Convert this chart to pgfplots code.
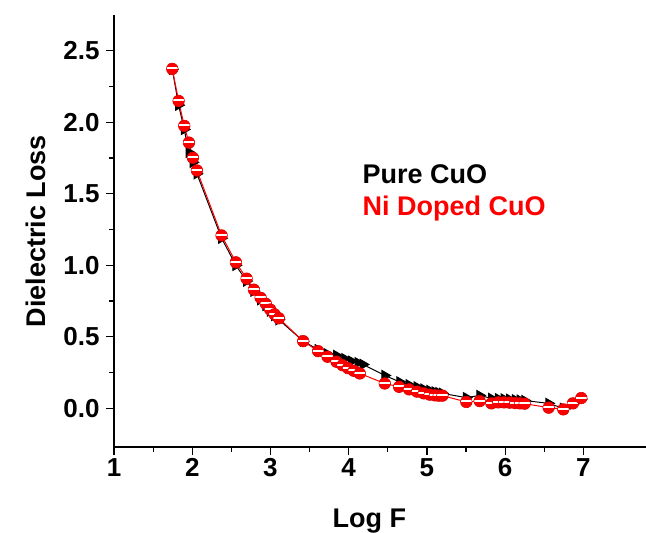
\documentclass[border=0pt]{standalone}
\usepackage{pgfplots}
\pgfplotsset{compat=1.18}
\usepackage{fontspec}
\setmainfont{Liberation Sans}

% red ball with a white highlight band
\pgfdeclareplotmark{ball}{%
  \pgfpathcircle{\pgfpointorigin}{\pgfplotmarksize}%
  \pgfsetfillcolor{red}\pgfusepath{fill}%
  \begin{pgfscope}%
    \pgfpathcircle{\pgfpointorigin}{\pgfplotmarksize}\pgfusepath{clip}%
    \pgfpathrectangle{\pgfpoint{-\pgfplotmarksize}{-0.08\pgfplotmarksize}}{\pgfpoint{2\pgfplotmarksize}{0.34\pgfplotmarksize}}%
    \pgfsetfillcolor{white}\pgfusepath{fill}%
  \end{pgfscope}%
  \pgfsetlinewidth{0.6pt}%
  \pgfpathcircle{\pgfpointorigin}{\pgfplotmarksize}%
  \pgfsetstrokecolor{red!85!black}\pgfusepath{stroke}%
}

\begin{document}
\begin{tikzpicture}
\begin{axis}[
    scale only axis,
    width=532pt, height=432pt,
    xmin=1, xmax=7.8,
    ymin=-0.27, ymax=2.75,
    axis lines*=left,
    axis line style={line width=1.2pt},
    tick align=outside,
    major tick length=8pt,
    minor tick length=4.5pt,
    every tick/.style={line width=1.2pt, black},
    xtick={1,2,...,7},
    ytick={0,0.5,...,2.5},
    minor x tick num=1,
    minor y tick num=1,
    /pgf/number format/assume math mode=true,
    yticklabel style={/pgf/number format/fixed, /pgf/number format/fixed zerofill,
        /pgf/number format/precision=1, xshift=-3pt},
    tick label style={font=\fontsize{26}{30}\selectfont\bfseries},
    label style={font=\fontsize{27}{31}\selectfont\bfseries},
    xlabel={Log F},
    ylabel={Dielectric Loss},
    xlabel style={at={(rel axis cs:0.48,0)}, anchor=base, yshift=-80pt},
    ylabel style={at={(rel axis cs:0,0.5)}, anchor=center, yshift=78pt},
    clip=false,
]
% Pure CuO
\addplot[black, line width=1pt, mark=triangle*, mark size=5.8pt,
    mark options={rotate=-90, fill=black, solid}] coordinates {
    (1.745,2.37) (1.826,2.12) (1.898,1.95) (1.958,1.79) (2.009,1.72) (2.060,1.64)
    (2.375,1.19) (2.558,1.00) (2.695,0.89) (2.788,0.82) (2.874,0.76) (2.941,0.72)
    (2.996,0.68) (3.052,0.65) (3.107,0.62) (3.418,0.47) (3.609,0.41) (3.729,0.38)
    (3.844,0.37) (3.950,0.347) (4.036,0.33) (4.120,0.319) (4.184,0.307)
    (4.461,0.23) (4.653,0.185) (4.771,0.165) (4.874,0.15) (4.959,0.135) (5.036,0.125)
    (5.103,0.115) (5.151,0.11) (5.198,0.105) (5.503,0.075) (5.674,0.09) (5.824,0.07)
    (5.911,0.068) (5.985,0.066) (6.057,0.063) (6.128,0.06) (6.189,0.058) (6.249,0.055)
    (6.556,0.035) (6.743,0.0) (6.866,0.03) (6.973,0.065)
};
% Ni Doped CuO
\addplot[red, line width=1pt, mark=ball, mark size=5.8pt] coordinates {
    (1.745,2.373) (1.826,2.149) (1.898,1.975) (1.958,1.858) (2.009,1.752) (2.060,1.663)
    (2.375,1.209) (2.558,1.021) (2.695,0.907) (2.788,0.830) (2.874,0.773) (2.941,0.731)
    (2.996,0.691) (3.052,0.658) (3.107,0.630) (3.418,0.470) (3.609,0.400) (3.729,0.361)
    (3.844,0.326) (3.921,0.302) (3.992,0.281) (4.065,0.263) (4.142,0.244)
    (4.461,0.174) (4.644,0.151) (4.771,0.133) (4.874,0.117) (4.959,0.105) (5.036,0.096)
    (5.103,0.091) (5.151,0.089) (5.198,0.089) (5.503,0.045) (5.674,0.051) (5.824,0.035)
    (5.911,0.042) (5.985,0.042) (6.057,0.040) (6.128,0.037) (6.189,0.035) (6.249,0.033)
    (6.556,0.005) (6.743,-0.007) (6.866,0.035) (6.973,0.072)
};
\node[anchor=base west, inner sep=0pt, font=\fontsize{27}{30}\selectfont\bfseries, black]
    at (axis cs:4.176,1.575) {Pure CuO};
\node[anchor=base west, inner sep=0pt, font=\fontsize{27}{30}\selectfont\bfseries, red]
    at (axis cs:4.176,1.349) {Ni Doped CuO};
\coordinate (ll) at (rel axis cs:0,0);
\coordinate (ur) at (rel axis cs:1,1);
\end{axis}
\pgfresetboundingbox
\path[use as bounding box] ([shift={(-114pt,-85pt)}]ll) rectangle ([shift={(0pt,15pt)}]ur);
\end{tikzpicture}
\end{document}
